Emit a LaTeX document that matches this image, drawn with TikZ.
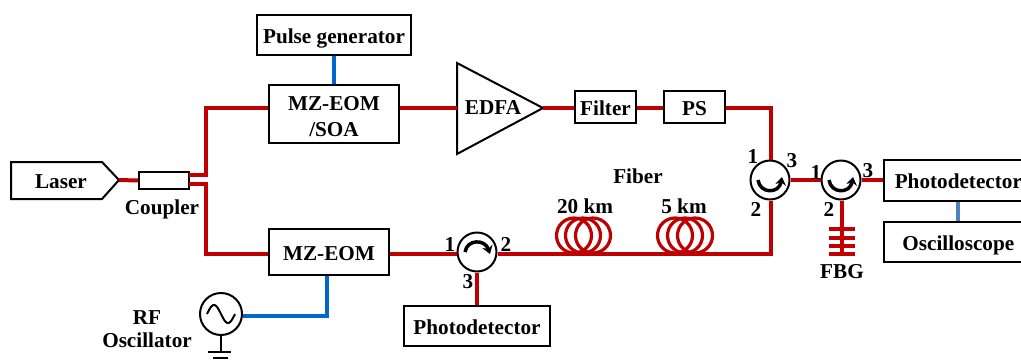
\documentclass[tikz,border=0pt]{standalone}
\usepackage{fontspec}
\setmainfont{Liberation Serif}
\usetikzlibrary{arrows.meta}
\definecolor{fibre}{HTML}{C00000}
\definecolor{elec}{HTML}{0066CC}
\definecolor{elecb}{HTML}{4F81BD}
\def\px{0.75pt}
\tikzset{
  lbl/.style={font=\fontsize{15.9}{19.5}\selectfont\bfseries, inner sep=0pt, align=center},
  box/.style={lbl, draw=black, line width=1.5pt, fill=white, minimum width=#1*\px, text height=12pt, text depth=0pt},
  red/.style={draw=fibre, line width=3pt},
  blue/.style={draw=elec, line width=3pt},
  ring/.style={circle, draw=black, line width=1.5pt, fill=white, minimum size=39*\px, inner sep=0pt},
  coil/.style={draw=fibre, line width=2.4pt},
  wire/.style={draw=black, line width=1.5pt},
  turn/.style={draw=black, line width=2.6pt, -{Stealth[length=6pt,width=8pt]}},
}
\begin{document}
\begin{tikzpicture}[x=0.75pt,y=-0.75pt]
\useasboundingbox (0,0) rectangle (1021,361);

\coordinate (cu) at (189,175);
\coordinate (cl) at (189,184);
\coordinate (ca) at (206,108);
\coordinate (cb) at (206,254);

% boxes
\node[box=154, minimum height=40*\px] (pulse) at (334,35) {Pulse generator};
\node[box=130, minimum height=58*\px] (mzs) at (334,114) {};
\node[lbl] (mzst) at (334,117) {MZ-EOM\\/SOA};
\node[box=120, minimum height=46*\px] (mz) at (329,252) {MZ-EOM};
\node[box=61, minimum height=32*\px] (filter) at (605.5,107) {Filter};
\node[box=61, minimum height=32*\px] (ps) at (694.5,107) {PS};
\node[box=50, minimum height=17*\px] (coupler) at (164,180.5) {};
\node[box=146, minimum height=40*\px] (pd1) at (477,326) {Photodetector};
\node[box=142, minimum height=41*\px] (pd2) at (955,180.5) {\hspace{5pt}Photodetector};
\node[box=142, minimum height=40*\px] (osc) at (955,242) {\hspace{5pt}Oscilloscope};

% laser
\coordinate (lasertip) at (119,180);
\draw[wire, line join=miter, fill=white] (11,162) -- (102,162) -- (lasertip) -- (102,199) -- (11,199) -- cycle;
\node[lbl] (laser) at (61,182) {Laser};

% EDFA
\coordinate (edfain) at (457,108);
\coordinate (edfaout) at (543,108);
\draw[wire, line join=miter, fill=white] (457,63) -- (edfaout) -- (457,154) -- cycle;
\node[lbl] (edfa) at (493,108) {EDFA};

% circulators
\node[ring] (c3) at (477,252) {};
\node[ring] (c1) at (770,180) {};
\node[ring] (c2) at (841,180) {};
\draw[turn] (465,252) .. controls (467,239) and (485,239) .. (490,254);
\draw[turn] (758,180) .. controls (760,194) and (779,194) .. (782,177);
\draw[turn] (829,180) .. controls (831,194) and (850,194) .. (853,177);

% RF source
\node[circle, draw=black, line width=1.5pt, fill=white, minimum size=42*\px, inner sep=0pt] (rf) at (221,314) {};
\draw[wire] plot[domain=-1:1,samples=40,smooth] ({221+14*\x},{314-9*sin(180*(\x+1))});
\coordinate (gnd) at (221,352);
\coordinate (gl) at (208,352);
\coordinate (gr) at (231,352);
\coordinate (g2l) at (213,358);
\coordinate (g2r) at (228,358);
\draw[wire] (rf.south) -- (gnd);
\draw[wire] (gl) -- (gr);
\draw[wire] (g2l) -- (g2r);

% optical paths
\draw[red] (lasertip) -- (coupler.west);
\draw[red, line join=miter] (cu) -| (ca) -- (mzs.west |- ca);
\draw[red, line join=miter] (cl) -| (cb) -- (mz.west |- cb);
\draw[red] (mzs.east |- edfain) -- (edfain);
\draw[red] (edfaout) -- (filter.west |- edfaout);
\draw[red] (filter.east |- edfaout) -- (ps.west |- edfaout);
\coordinate (cr) at (771,108);
\draw[red, line join=miter] (ps.east |- cr) -- (cr) -- (c1.north -| cr);
\coordinate (f0) at (771,254);
\draw[red] (mz.east |- f0) -- (c3.west |- f0);
\draw[red, line join=miter] (c3.east |- f0) -- (f0) -- (c1.south -| f0);
\draw[red] (c1.east) -- (c2.west);
\draw[red] (c2.east) -- (pd2.west |- c2);
\draw[red] (c3.south) -- (pd1.north);

% FBG
\coordinate (fbgend) at (842,255);
\draw[red] (c2.south -| fbgend) -- (fbgend);
\foreach \y/\n in {229/a,238/b,246/c,254/d}{
  \coordinate (bl\n) at (829,\y);
  \coordinate (br\n) at (855,\y);
  \draw[draw=fibre, line width=2.6pt] (bl\n) -- (br\n);
}

% coils
\foreach \x in {574,583,593,675,685,695}{
  \draw[coil] (\x,235.5) circle (17.5);
}

% electrical
\draw[blue] (pulse.south) -- (mzs.north -| pulse.south);
\coordinate (rfc) at (327,316);
\draw[blue, line join=miter] (rf.east |- rfc) -- (rfc) -- (mz.south -| rfc);
\coordinate (po) at (958,200);
\draw[draw=elecb, line width=3pt] (pd2.south -| po) -- (osc.north -| po);

% labels
\node[lbl] (lcoupler) at (162,209) {Coupler};
\node[lbl] (lrf) at (147,329) {RF\\[-2pt]Oscillator};
\node[lbl] (lfiber) at (638,176) {Fiber};
\node[lbl] (l20) at (585,206) {20 km};
\node[lbl] (l5) at (684,206) {5 km};
\node[lbl] (lfbg) at (842,272) {FBG};
\node[lbl] (a1) at (450,244) {1};
\node[lbl] (a2) at (506,244) {2};
\node[lbl] (a3) at (468,282) {3};
\node[lbl] (b1) at (753,156) {1};
\node[lbl] (b3) at (792,161) {3};
\node[lbl] (b2) at (756,209) {2};
\node[lbl] (d1) at (816,172) {1};
\node[lbl] (d3) at (868,171) {3};
\node[lbl] (d2) at (829,209) {2};
\end{tikzpicture}
\end{document}
